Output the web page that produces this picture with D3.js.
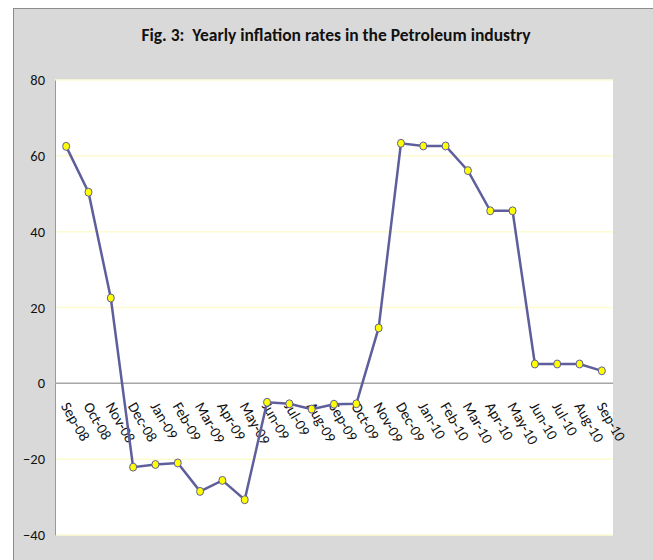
<!DOCTYPE html>
<meta charset="utf-8">
<body style="margin:0;background:#fff">
<style>
  .line1 { fill: none; stroke: #5e5e9c; stroke-width: 2.5px; }
  .tick text, .lbl { font-family: Carlito, Calibri, Lato, sans-serif; fill: #111; }
</style>
<script src="https://d3js.org/d3.v7.min.js"></script>
<script>
// data
var months = ["Sep-08","Oct-08","Nov-08","Dec-08","Jan-09","Feb-09","Mar-09","Apr-09","May-09",
              "Jun-09","Jul-09","Aug-09","Sep-09","Oct-09","Nov-09","Dec-09","Jan-10","Feb-10",
              "Mar-10","Apr-10","May-10","Jun-10","Jul-10","Aug-10","Sep-10"];
var rates = [62.5, 50.4, 22.5, -22.1, -21.4, -21.0, -28.5, -25.6, -30.7,
             -5.0, -5.4, -6.8, -5.5, -5.4, 14.6, 63.3, 62.6, 62.6,
             56.1, 45.5, 45.5, 5.1, 5.1, 5.1, 3.3];
var yTicks = [-40, -20, 0, 20, 40, 60, 80];
var title = "Fig. 3:  Yearly inflation rates in the Petroleum industry";

var W = 653, H = 560;
var margin = {top: 80, right: 40, bottom: 25, left: 55},
    width = 613 - margin.left,
    height = 535 - margin.top;

var svg = d3.select("body").append("svg")
    .attr("width", W).attr("height", H);

// grey chart frame
svg.append("rect")
    .attr("x", 13.5).attr("y", 8.5)
    .attr("width", W).attr("height", H)
    .attr("fill", "#d9d9d9").attr("stroke", "#8c8c8c");

svg.append("text").attr("class", "lbl")
    .attr("x", 336).attr("y", 41)
    .attr("text-anchor", "middle")
    .style("font-size", "17.5px").style("font-weight", "bold")
    .style("white-space", "pre")
    .text(title);

var g = svg.append("g")
    .attr("transform", "translate(" + margin.left + "," + margin.top + ")");

var x = d3.scaleBand().domain(months).range([0, width]);
var y = d3.scaleLinear().domain([-40, 80]).range([height, 0]);

g.append("rect").attr("width", width).attr("height", height).attr("fill", "#fff");

// gridlines
g.selectAll(".grid").data(yTicks.filter(function(d) { return d !== 0; }))
  .enter().append("line")
    .attr("x1", 0).attr("x2", width)
    .attr("y1", function(d) { return y(d); })
    .attr("y2", function(d) { return y(d); })
    .attr("stroke", "#fdfbd0").attr("stroke-width", 1.5);

// y axis
var yAxis = g.append("g")
    .call(d3.axisLeft(y).tickValues(yTicks).tickSize(0).tickPadding(10));
yAxis.select(".domain").attr("stroke", "#9a9a9a");
yAxis.selectAll("text").style("font-size", "14.5px");

// zero line
g.append("line")
    .attr("x1", 0).attr("x2", width)
    .attr("y1", y(0)).attr("y2", y(0))
    .attr("stroke", "#a6a6a6").attr("stroke-width", 1.5);

// x labels, rotated, hanging below zero line
g.selectAll(".xl").data(months).enter().append("text")
    .attr("class", "lbl")
    .attr("transform", function(d) {
        return "translate(" + (x(d) + x.bandwidth() / 2 - 1) + "," + (y(0) + 20) + ") rotate(60)";
    })
    .attr("dy", "0.35em")
    .style("font-size", "15px")
    .text(function(d) { return d; });

var valueline = d3.line()
    .x(function(d, i) { return x(months[i]) + x.bandwidth() / 2; })
    .y(function(d) { return y(d); });

g.append("path").datum(rates).attr("class", "line1").attr("d", valueline);

g.selectAll(".dot").data(rates).enter().append("ellipse")
    .attr("cx", function(d, i) { return x(months[i]) + x.bandwidth() / 2; })
    .attr("cy", function(d) { return y(d); })
    .attr("rx", 3.5).attr("ry", 4)
    .attr("fill", "#ffff00").attr("stroke", "#5e5e9c").attr("stroke-width", 1);
</script>
